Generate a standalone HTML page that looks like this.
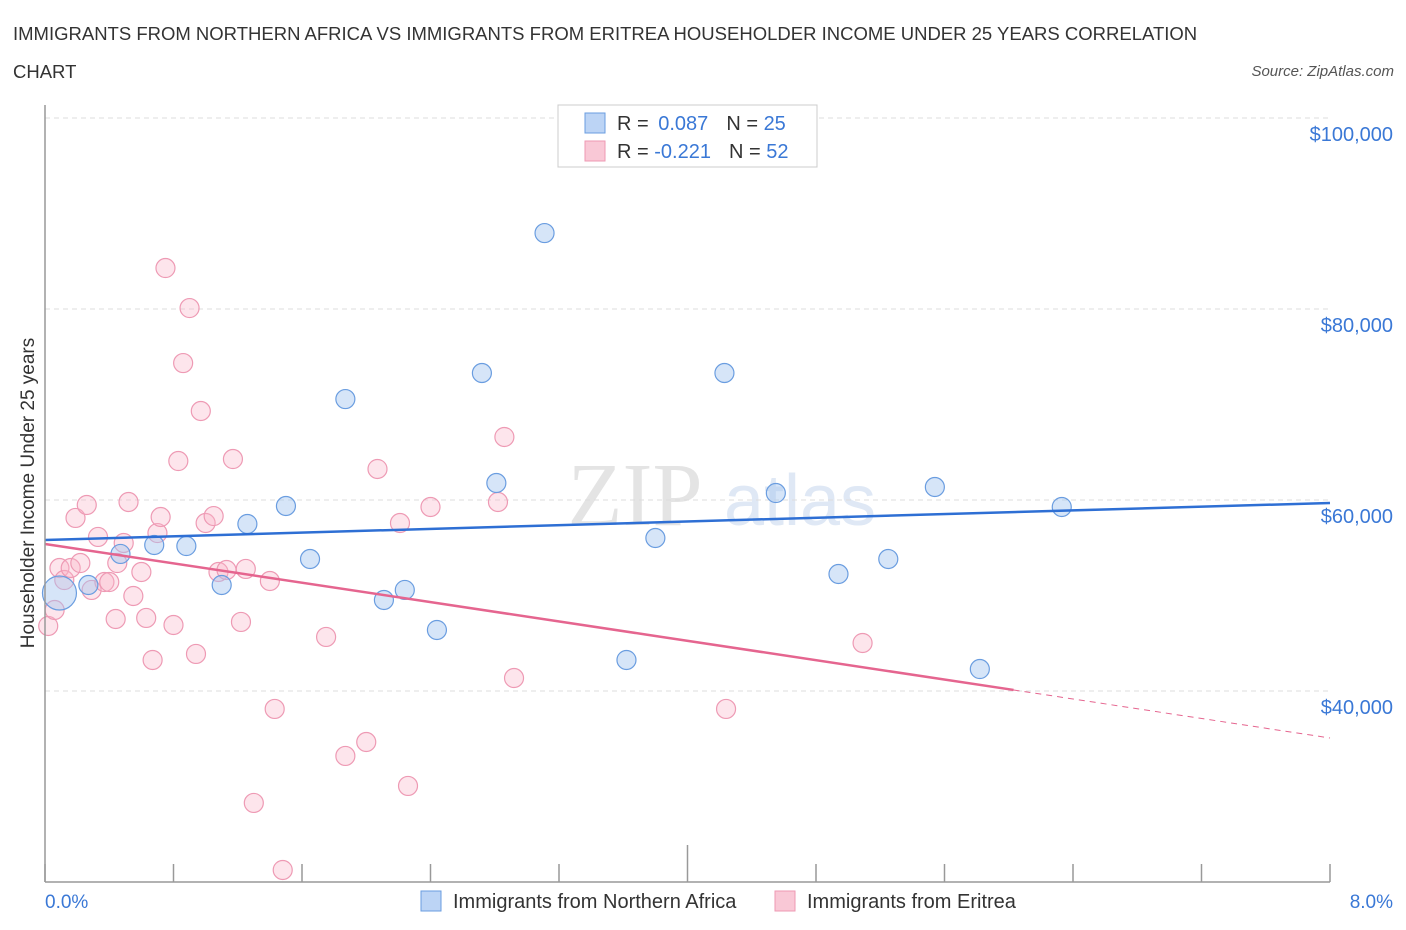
<!DOCTYPE html>
<html><head><meta charset="utf-8"><style>
body{margin:0;background:#fff;font-family:"Liberation Sans",sans-serif;}
svg{display:block}
</style></head><body>
<svg id="c" width="1406" height="930">
<text x="13" y="40" font-size="18.5" fill="#333">IMMIGRANTS FROM NORTHERN AFRICA VS IMMIGRANTS FROM ERITREA HOUSEHOLDER INCOME UNDER 25 YEARS CORRELATION</text>
<text x="13" y="78" font-size="18.5" fill="#333">CHART</text>
<text x="1394" y="76" font-size="15" fill="#555" font-style="italic" text-anchor="end">Source: ZipAtlas.com</text>
<text x="635" y="525" font-size="90" fill="#e4e4e4" font-family="Liberation Serif,serif" text-anchor="middle">ZIP</text>
<text x="800" y="525" font-size="72" fill="#dfe8f5" text-anchor="middle">atlas</text>
<text transform="translate(34,493) rotate(-90)" font-size="19" fill="#333" text-anchor="middle">Householder Income Under 25 years</text>
<g id="grid"></g><g id="pts"></g><g id="lines"></g>
<line x1="45" y1="105" x2="45" y2="882" stroke="#999" stroke-width="1.5"/>
<line x1="45" y1="882" x2="1330" y2="882" stroke="#999" stroke-width="1.5"/>
<g id="ticks"></g>
<text x="45" y="908" font-size="19" fill="#3a78d6">0.0%</text>
<text x="1393" y="908" font-size="19" fill="#3a78d6" text-anchor="end">8.0%</text>
<g>
<rect x="558" y="105" width="259" height="62" fill="#fff" stroke="#ccc"/>
<rect x="585" y="113" width="20" height="20" fill="#bcd4f5" stroke="#6a9de0"/>
<text x="617" y="130" font-size="20" fill="#333">R = <tspan fill="#3a78d6" dx="4">0.087</tspan><tspan dx="18">N = </tspan><tspan fill="#3a78d6">25</tspan></text>
<rect x="585" y="141" width="20" height="20" fill="#f9c8d6" stroke="#ee99b3"/>
<text x="617" y="158" font-size="20" fill="#333">R = <tspan fill="#3a78d6">-0.221</tspan><tspan dx="18">N = </tspan><tspan fill="#3a78d6">52</tspan></text>
</g>
<g>
<rect x="421" y="891" width="20" height="20" fill="#bcd4f5" stroke="#6a9de0"/>
<text x="453" y="908" font-size="20" fill="#333">Immigrants from Northern Africa</text>
<rect x="775" y="891" width="20" height="20" fill="#f9c8d6" stroke="#ee99b3"/>
<text x="807" y="908" font-size="20" fill="#333">Immigrants from Eritrea</text>
</g>
</svg>
<script>
const yTicks=[40000,60000,80000,100000];
const yTickLabels=["$40,000","$60,000","$80,000","$100,000"];
const blueX=[0.09,0.27,0.47,0.68,0.88,1.10,1.26,1.50,1.65,1.87,2.11,2.24,2.44,2.72,2.81,3.11,3.62,3.80,4.23,4.55,4.94,5.25,5.54,5.82,6.33];
const blueY=[50260,51100,54350,55290,55180,51100,57490,59370,53820,70570,49530,50580,46390,73300,61780,87950,43250,56020,73300,60730,52250,53820,61360,42300,59270];
const pinkX=[0.19,0.26,0.09,0.12,0.16,0.22,0.29,0.33,0.37,0.40,0.45,0.49,0.52,0.55,0.60,0.44,0.63,0.67,0.70,0.72,0.75,0.80,0.83,0.86,0.90,0.94,0.97,1.00,1.05,1.08,1.13,1.17,1.22,1.25,1.40,1.43,1.30,1.48,1.75,1.87,2.00,2.07,2.21,2.26,2.40,2.82,2.86,2.92,4.24,5.09,0.02,0.06];
const pinkY=[58120,59480,52880,51620,52880,53400,50580,56130,51410,51410,53400,55500,59790,49950,52460,47540,47650,43250,56540,58220,84290,46910,64080,74340,80100,43880,69320,57590,58320,52460,52670,64290,47230,52780,51520,38120,28280,21260,45660,33200,34660,63250,57590,30060,59270,59790,66600,41360,38120,45030,46810,48480];
const blueTrend=[[0,55810],[8,59690]];
const pinkTrend=[[0,55390],[6.03,40110],[8,35080]];
const X=p=>45+p/8*1285, Y=v=>500-(v-60000)*191/20000;
const NS="http://www.w3.org/2000/svg";
function mk(t,a,parent){const e=document.createElementNS(NS,t);for(const k in a)e.setAttribute(k,a[k]);document.getElementById(parent).appendChild(e);return e;}
yTicks.forEach((v,i)=>{
 const l=mk('line',{x1:45,x2:1330,y1:Y(v),y2:Y(v),stroke:'#ddd','stroke-dasharray':'5,4'},'grid');
 
 
 const t=mk('text',{x:1393,y:Y(v)+23,'font-size':20,fill:'#3a78d6','text-anchor':'end'},'grid');
 t.textContent=yTickLabels[i];
 
 
});
const topGrid=mk('line',{x1:45,x2:1330,y1:118,y2:118,stroke:'#ddd','stroke-dasharray':'5,4'},'grid');


for(let i=0;i<=10;i++){
 const x=X(i*0.8);
 const t=mk('line',{x1:x,x2:x,y1:i==5?845:864,y2:882,stroke:'#999','stroke-width':1.5},'ticks');
 
 
}
pinkX.forEach((p,i)=>{
 const c=mk('circle',{cx:X(p),cy:Y(pinkY[i]),r:9.5,fill:'rgba(248,180,200,0.35)',stroke:'#ee9ab4','stroke-width':1.2},'pts');
 
 
});
blueX.forEach((p,i)=>{
 const c=mk('circle',{cx:X(p),cy:Y(blueY[i]),r:i==0?17:9.5,fill:'rgba(165,198,240,0.45)',stroke:'#6a9de0','stroke-width':1.2},'pts');
 
 
});
const bl=mk('line',{x1:X(blueTrend[0][0]),y1:Y(blueTrend[0][1]),x2:X(blueTrend[1][0]),y2:Y(blueTrend[1][1]),stroke:'#2e6fd4','stroke-width':2.5},'lines');


const pl=mk('line',{x1:X(pinkTrend[0][0]),y1:Y(pinkTrend[0][1]),x2:X(pinkTrend[1][0]),y2:Y(pinkTrend[1][1]),stroke:'#e5658f','stroke-width':2.5},'lines');


const pd=mk('line',{x1:X(pinkTrend[1][0]),y1:Y(pinkTrend[1][1]),x2:X(pinkTrend[2][0]),y2:Y(pinkTrend[2][1]),stroke:'#e5658f','stroke-width':1,'stroke-dasharray':'6,5'},'lines');


</script>
</body></html>
